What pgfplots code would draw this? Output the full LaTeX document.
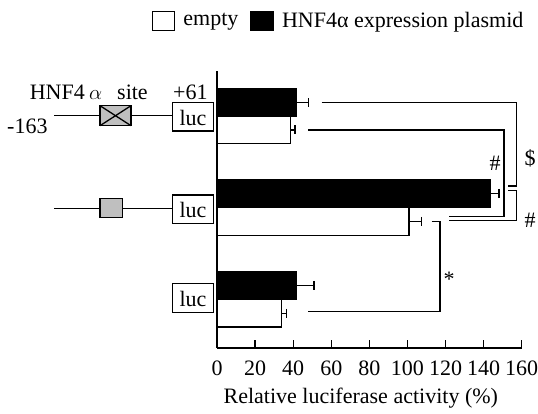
\documentclass[border=0pt]{standalone}
\usepackage{fontspec}
\setmainfont{Liberation Serif}
\usepackage{pgfplots}
\pgfplotsset{compat=1.18}
\begin{document}
\fontsize{22}{26}\selectfont
\begin{tikzpicture}[x=1pt,y=1pt]
\useasboundingbox (0,0) rectangle (538,414);
\begin{axis}[
  at={(217pt,66pt)}, anchor=south west,
  scale only axis, width=304.7pt, height=277.3pt,
  xmin=0, xmax=160, ymin=66, ymax=343.3,
  axis x line*=bottom, axis y line*=left,
  xtick={0,20,...,160}, ytick=\empty,
  tick align=inside, major tick length=8pt,
  every tick/.style={line width=1.2pt, black},
  axis line style={line width=1.3pt},
  xticklabel style={font=\fontsize{22}{26}\selectfont, /pgf/number format/assume math mode=true, inner sep=0pt, yshift=-13pt},
  xbar, bar width=27.5pt, bar shift=0pt,
  clip=false,
  legend columns=2,
  legend style={at={(-0.215,1.179)}, anchor=west, draw=none, fill=none, inner sep=0pt,
    font=\fontsize{22}{26}\selectfont,
    /tikz/every odd column/.append style={column sep=6pt},
    /tikz/every even column/.append style={column sep=10pt}},
]
\addplot[fill=white, draw=black, line width=1.2pt,
  legend image code/.code={\draw[fill=white, draw=black, line width=1.2pt] (0pt,-9.5pt) rectangle (22.5pt,9.5pt);},
  error bars/.cd, x dir=plus, x explicit,
  error bar style={line width=1.5pt},
  error mark options={rotate=90, mark size=4.5pt, line width=1.5pt}]
  coordinates {(38.7,284) +- (2.3,0) (100.8,192.5) +- (6.7,0) (34,100.7) +- (2.6,0)};
\addlegendentry{empty}
\addplot[fill=black, draw=black, line width=1.2pt,
  legend image code/.code={\draw[fill=black, draw=black, line width=1.2pt] (0pt,-9.5pt) rectangle (22.5pt,9.5pt);},
  error bars/.cd, x dir=plus, x explicit,
  error bar style={line width=1.5pt},
  error mark options={rotate=90, mark size=4.5pt, line width=1.5pt}]
  coordinates {(41.5,311.3) +- (6.5,0) (143.7,220.5) +- (4.3,0) (41.5,128.7) +- (9.5,0)};
\addlegendentry{HNF4α expression plasmid}
\end{axis}
% x label
\node[inner sep=0pt] at (360.8,16) {Relative luciferase activity (\%)};
% construct diagrams
\begin{scope}[line width=1.3pt]
\draw (54.3,298.3) -- (172.7,298.3);
\draw[fill=black!25] (100,308.3) rectangle (131,288.3);
\draw (100,308.3) -- (131,288.3) (100,288.3) -- (131,308.3);
\draw[fill=white] (172.7,311.7) rectangle (213.3,283);
\node[inner sep=0pt] at (193,296.5) {luc};
\draw (54.3,205.7) -- (172.7,205.7);
\draw[fill=black!25] (100,215.7) rectangle (122.7,196.3);
\draw[fill=white] (172.7,219) rectangle (213.3,190.7);
\node[inner sep=0pt] at (193,204) {luc};
\draw[fill=white] (172.7,130.7) rectangle (213.3,101.7);
\node[inner sep=0pt] at (193,115.5) {luc};
\end{scope}
\node[anchor=base east, inner sep=0pt] at (85,314) {HNF4};
\node[anchor=base west, inner sep=0pt] at (89,314) {$\alpha$};
\node[anchor=base west, inner sep=0pt] at (117,314) {site};
\node[anchor=base west, inner sep=0pt] at (173,314) {+61};
\node[anchor=base west, inner sep=0pt] at (7,280) {-163};
% significance brackets
\begin{scope}[line width=1.3pt]
\draw (321.7,311.3) -- (516.7,311.3) -- (516.7,228) -- (508,228);
\draw (308,284) -- (504,284) -- (504,197.3) -- (449,197.3);
\draw (508,223.3) -- (516.7,223.3) -- (516.7,193.3) -- (449,193.3);
\draw (431.7,192.3) -- (440,192.3) -- (440,102.3) -- (308,102.3);
\end{scope}
\node[inner sep=0pt] at (495,251) {\#};
\node[inner sep=0pt] at (530,256) {\$};
\node[inner sep=0pt] at (530,194) {\#};
\node[inner sep=0pt] at (449,135) {*};
\end{tikzpicture}
\end{document}
